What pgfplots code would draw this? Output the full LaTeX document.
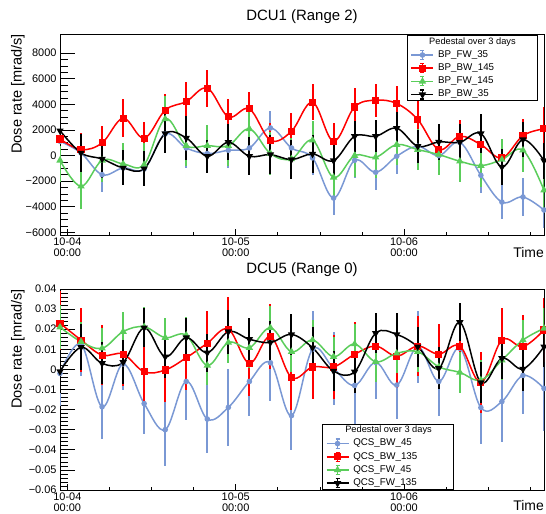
\documentclass[border=0pt]{standalone}
\usepackage{fontspec}
\setmainfont{Liberation Sans}
\usepackage{pgfplots}
\usepackage{pgfplotstable}
\pgfplotsset{compat=1.18}
\definecolor{rblue}{RGB}{122,152,212}
\definecolor{rred}{RGB}{255,0,0}
\definecolor{rgreen}{RGB}{90,205,90}

% DCU1: a=BP_FW_35, b=BP_BW_145, c=BP_FW_145, d=BP_BW_35 (t in hours)
\pgfplotstableread{
t  a     ea    b     eb    c     ec    d     ed
0  1120  1300  1300  1400  -370  1700  1950  1200
3  210   1400  470   1300  -2400 1800  210   1500
6  -1490 1350  990   1350  -370  1700  -260  1450
9  -960  1350  2920  1500  -650  1650  -960  1360
12 -1040 1300  1360  1300  -700  1700  -1020 1350
15 1700  1350  3550  1300  2870  1750  1720  1500
18 600   1600  4220  1500  780   1600  1380  1700
21 160   1300  5270  1450  780   1600  -50   1300
24 420   1350  3030  1400  780   1600  1040  1400
27 600   1400  3650  1350  2090  1700  -50   1500
30 2160  1350  1200  1350  160   1650  80    1500
33 600   1350  1900  1450  -260  1600  -310  1550
36 -180  1300  4170  1400  1200  1500  130   1450
39 -3310 1350  1120  1450  -1700 1700  -390  1400
42 -370  1400  3800  1450  0     1700  1510  1200
45 -1300 1400  4330  1300  -130  1650  1510  1250
48 -50   1350  4070  1400  860   1600  2140  1300
51 730   1350  2820  1500  470   1600  730   1300
54 0     1400  470   1350  80    1600  1070  1400
57 1040  1400  1510  1300  -440  1600  1040  1400
60 -1540 1400  860   1300  -780  1700  1720  1500
63 -3630 1350  -180  1200  -310  1600  -890  1400
66 -3230 1500  1560  1300  420   1700  1250  1350
69 -4250 1400  2090  1700  -2700 1600  -390  1400
}\topdata

% DCU5: a=QCS_BW_45, b=QCS_BW_135, c=QCS_FW_45, d=QCS_FW_135
\pgfplotstableread{
t  a       ea     b       eb     c       ec     d       ed
0  -0.002  0.016  0.023   0.016  0.021   0.011  -0.001  0.0105
3  0.0125  0.016  0.0146  0.016  0.0138  0.010  0.011   0.0115
6  -0.0186 0.016  0.0071  0.015  0.0105  0.010  0.003   0.0105
9  0.0027  0.013  0.0076  0.016  0.0188  0.010  0.0035  0.0110
12 -0.017  0.015  -0.0012 0.016  0.0212  0.010  0.0207  0.0097
15 -0.030  0.018  -0.0003 0.016  0.0158  0.010  0.0063  0.0105
18 -0.006  0.019  0.0058  0.016  0.017   0.009  0.0158  0.0100
21 -0.0247 0.017  0.013   0.016  0.002   0.010  0.0083  0.0095
24 -0.0189 0.019  0.020   0.016  0.0134  0.010  0.0188  0.0110
27 -0.006  0.017  0.003   0.016  0.0108  0.010  0.015   0.0105
30 0.0033  0.019  0.0163  0.016  0.0207  0.011  0.0134  0.0105
33 -0.023  0.017  -0.004  0.016  0.0088  0.010  0.0174  0.0100
36 0.010   0.019  0.0012  0.016  0.0146  0.010  0.0108  0.0105
39 0.0005  0.018  0.0012  0.016  0.0063  0.010  -0.0008 0.0100
42 -0.008  0.019  0.0075  0.016  0.0126  0.010  -0.0012 0.0105
45 0.0035  0.018  0.0116  0.016  0.0038  0.010  0.018   0.0100
48 -0.0078 0.017  0.0066  0.016  0.008   0.010  0.0174  0.0105
51 0.0113  0.018  0.0116  0.015  0.0088  0.010  0.0113  0.0100
54 -0.006  0.017  0.0076  0.015  0.0013  0.010  0.0005  0.0105
57 0.0105  0.017  0.0116  0.016  -0.0015 0.010  0.0234  0.0095
60 -0.019  0.018  -0.0065 0.015  -0.0053 0.010  -0.0065 0.0100
63 -0.016  0.020  0.0146  0.016  0.0046  0.010  0.0055  0.0105
66 -0.003  0.019  0.0113  0.016  0.0146  0.010  0.0002  0.0110
69 -0.0095 0.021  0.0196  0.016  0.0204  0.010  0.0113  0.0100
}\botdata

\pgfplotsset{
  rootaxis/.style={
    scale only axis, width=484bp, height=201bp,
    xmin=0, xmax=69,
    axis line style={line width=0.9bp},
    tick pos=left,
    xtick=\empty,
    yticklabel style={font=\fontsize{11}{12}\selectfont},
    major tick length=15bp, minor tick length=7.5bp,
    tick style={black, line width=0.7bp},
    xlabel={Time},
    xlabel style={at={(axis description cs:1,0)}, anchor=base east, yshift=-23bp, inner sep=0pt, font=\fontsize{14}{16}\selectfont},
    ylabel={Dose rate [mrad/s]},
    ylabel style={at={(axis description cs:-0.087,1)}, anchor=east, inner sep=0pt, font=\fontsize{14.6}{16}\selectfont},
    title style={at={(axis description cs:0.5,1)}, anchor=center, yshift=11bp, font=\fontsize{15}{17}\selectfont},
    scaled ticks=false,
    legend cell align=left,
    legend style={draw=black, line width=0.9bp, fill=white, font=\fontsize{9.8}{11}\selectfont,
      inner xsep=3.5bp, inner ysep=0bp, column sep=2.5bp, row sep=0.5bp,
      nodes={inner sep=1.5bp, text height=7.2bp, text depth=2.5bp}},
    legend image code/.code={
      \draw[mark repeat=2,mark phase=2,##1] plot coordinates {(0bp,0bp)(11bp,0bp)(22bp,0bp)};
      \draw[##1, mark=none, line width=1.2bp] (11bp,-4.5bp) -- (11bp,4.5bp) (9bp,-4.5bp) -- (13bp,-4.5bp) (9bp,4.5bp) -- (13bp,4.5bp);
    },
  },
  timeaxis/.style={
    scale only axis, width=484bp, height=201bp,
    xmin=0, xmax=69, ymin=0, ymax=1,
    hide y axis, axis line style={draw=none},
    tick pos=left, tick align=inside,
    major tick length=6bp, minor tick length=3bp,
    tick style={black, line width=0.7bp},
    xtick={1.05,25.05,49.05},
    xticklabels={{10-04\\00:00},{10-05\\00:00},{10-06\\00:00}},
    minor xtick={7.05,13.05,19.05,31.05,37.05,43.05,55.05,61.05,67.05},
    xticklabel style={align=center, font=\fontsize{11}{11.6}\selectfont, inner sep=2.5bp},
  },
  ser/.style={line width=1.5bp, smooth, tension=0.6,
    error bars/y dir=both, error bars/y explicit, error bars/error mark=none,
    error bars/error bar style={line width=2bp}},
}

\begin{document}
\begin{tikzpicture}
\useasboundingbox (0,0) rectangle (546bp,514bp);
\begin{axis}[rootaxis, at={(60bp,279bp)}, anchor=south west,
  ymin=-6200, ymax=9500,
  ytick={-6000,-4000,-2000,0,2000,4000,6000,8000},
  yticklabels={−6000,−4000,−2000,0,2000,4000,6000,8000},
  minor y tick num=3,
  title={DCU1 (Range 2)},
  legend style={at={(rel axis cs:0.988,0.995)}, anchor=north east}]
\addlegendimage{empty legend}
\addlegendentry[font=\fontsize{9.3}{11}\selectfont]{\hspace*{-9bp}Pedestal over 3 days\hspace*{17bp}}
\addplot[ser, color=rblue, mark=*, mark size=2bp, mark options={solid}] table[x=t,y=a,y error=ea]{\topdata};
\addlegendentry{BP\_FW\_35}
\addplot[ser, color=rred, mark=square*, mark size=2.8bp, mark options={solid}] table[x=t,y=b,y error=eb]{\topdata};
\addlegendentry{BP\_BW\_145}
\addplot[ser, color=rgreen, mark=triangle*, mark size=2.8bp, mark options={solid}] table[x=t,y=c,y error=ec]{\topdata};
\addlegendentry{BP\_FW\_145}
\addplot[ser, color=black, mark=triangle*, mark size=2.8bp, mark options={solid, rotate=180}] table[x=t,y=d,y error=ed]{\topdata};
\addlegendentry{BP\_BW\_35}
\end{axis}
\begin{axis}[timeaxis, at={(60bp,279bp)}, anchor=south west]
\end{axis}

\begin{axis}[rootaxis, at={(60bp,24bp)}, anchor=south west,
  ymin=-0.06, ymax=0.04,
  ytick={-0.06,-0.05,-0.04,-0.03,-0.02,-0.01,0,0.01,0.02,0.03,0.04},
  yticklabels={−0.06,−0.05,−0.04,−0.03,−0.02,−0.01,0,0.01,0.02,0.03,0.04},
  minor y tick num=4,
  title={DCU5 (Range 0)},
  title style={yshift=2bp},
  xlabel style={yshift=2.5bp},
  legend style={at={(rel axis cs:0.541,0.0)}, anchor=south west}]
\addlegendimage{empty legend}
\addlegendentry[font=\fontsize{9.3}{11}\selectfont]{\hspace*{-8bp}Pedestal over 3 days\hspace*{17bp}}
\addplot[ser, color=rblue, mark=*, mark size=2bp, mark options={solid}] table[x=t,y=a,y error=ea]{\botdata};
\addlegendentry{QCS\_BW\_45}
\addplot[ser, color=rred, mark=square*, mark size=2.8bp, mark options={solid}] table[x=t,y=b,y error=eb]{\botdata};
\addlegendentry{QCS\_BW\_135}
\addplot[ser, color=rgreen, mark=triangle*, mark size=2.8bp, mark options={solid}] table[x=t,y=c,y error=ec]{\botdata};
\addlegendentry{QCS\_FW\_45}
\addplot[ser, color=black, mark=triangle*, mark size=2.8bp, mark options={solid, rotate=180}] table[x=t,y=d,y error=ed]{\botdata};
\addlegendentry{QCS\_FW\_135}
\end{axis}
\begin{axis}[timeaxis, at={(60bp,24bp)}, anchor=south west]
\end{axis}
\end{tikzpicture}
\end{document}
